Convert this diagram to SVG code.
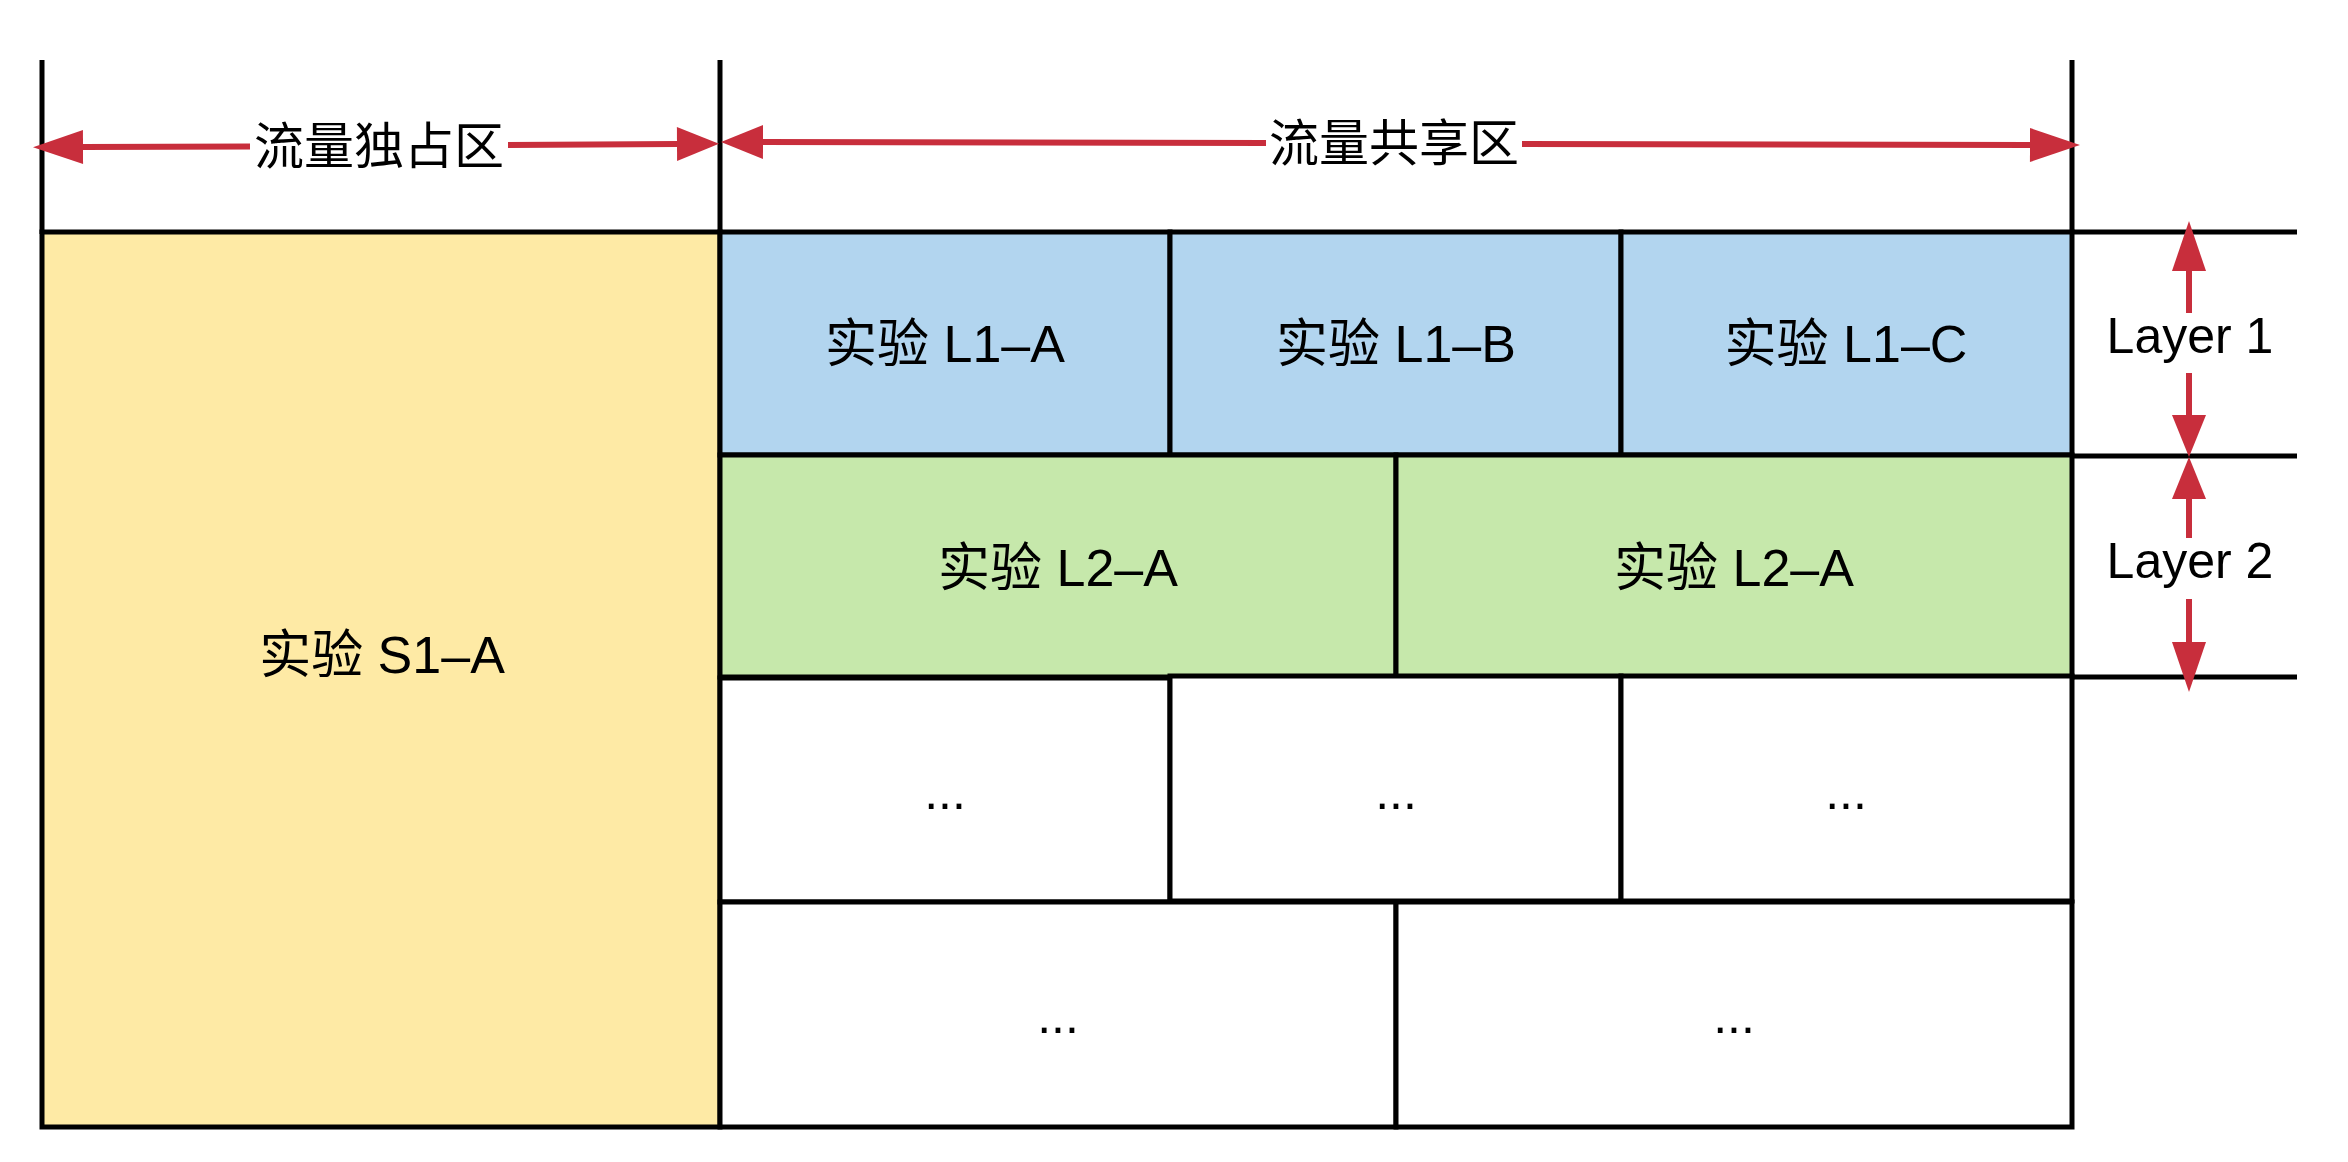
<svg xmlns="http://www.w3.org/2000/svg" width="2348" height="1162" viewBox="0 0 2348 1162">
  <style>
    .cell { stroke: #000000; stroke-width: 5; }
    .yellow { fill: #FEEAA5; }
    .blue { fill: #B2D5EF; }
    .green { fill: #C6E8AB; }
    .white { fill: #FFFFFF; }
    .edge { stroke: #000000; stroke-width: 5; fill: none; }
    .red { stroke: #C82E3C; stroke-width: 6; fill: none; }
    text { font-family: "Liberation Sans", "Noto Sans CJK SC", sans-serif; fill: #000000; text-anchor: middle; }
    .lbl { font-size: 52px; }
    .dots { font-size: 50px; }
    .head { font-size: 50px; }
  </style>
  <defs>
    <marker id="ah" markerUnits="userSpaceOnUse" markerWidth="50" markerHeight="34" refX="0" refY="17" orient="auto-start-reverse" overflow="visible">
      <path d="M0,0 L50,17 L0,34 Z" fill="#C82E3C"/>
    </marker>
    <marker id="ahs" markerUnits="userSpaceOnUse" markerWidth="42" markerHeight="34" refX="0" refY="17" orient="auto-start-reverse" overflow="visible">
      <path d="M0,0 L42,17 L0,34 Z" fill="#C82E3C"/>
    </marker>
  </defs>
  <rect x="0" y="0" width="2348" height="1162" fill="#FFFFFF"/>

  <g id="s1a">
    <rect class="cell yellow" x="42" y="232" width="678" height="895"/>
    <text class="lbl" x="382" y="673">实验 S1–A</text>
  </g>

  <g id="l1a">
    <rect class="cell blue" x="720" y="232" width="450" height="223"/>
    <text class="lbl" x="945" y="362">实验 L1–A</text>
  </g>
  <g id="l1b">
    <rect class="cell blue" x="1170" y="232" width="451" height="223"/>
    <text class="lbl" x="1396" y="362">实验 L1–B</text>
  </g>
  <g id="l1c">
    <rect class="cell blue" x="1621" y="232" width="451" height="223"/>
    <text class="lbl" x="1846" y="362">实验 L1–C</text>
  </g>

  <g id="l2a-1">
    <rect class="cell green" x="720" y="455" width="676" height="222"/>
    <text class="lbl" x="1058" y="586">实验 L2–A</text>
  </g>
  <g id="l2a-2">
    <rect class="cell green" x="1396" y="455" width="676" height="222"/>
    <text class="lbl" x="1734" y="586">实验 L2–A</text>
  </g>

  <g id="r3c1">
    <rect class="cell white" x="720" y="678" width="450" height="224"/>
    <text class="dots" x="945" y="809">...</text>
  </g>
  <g id="r3c2">
    <rect class="cell white" x="1170" y="676" width="451" height="225"/>
    <text class="dots" x="1396" y="809">...</text>
  </g>
  <g id="r3c3">
    <rect class="cell white" x="1621" y="676" width="451" height="225"/>
    <text class="dots" x="1846" y="809">...</text>
  </g>

  <g id="r4c1">
    <rect class="cell white" x="720" y="902" width="676" height="225"/>
    <text class="dots" x="1058" y="1033">...</text>
  </g>
  <g id="r4c2">
    <rect class="cell white" x="1396" y="902" width="676" height="225"/>
    <text class="dots" x="1734" y="1033">...</text>
  </g>

  <g id="guides">
    <line class="edge" x1="42" y1="60" x2="42" y2="234"/>
    <line class="edge" x1="720" y1="60" x2="720" y2="234"/>
    <line class="edge" x1="2072" y1="60" x2="2072" y2="234"/>
    <line class="edge" x1="2072" y1="232" x2="2297" y2="232"/>
    <line class="edge" x1="2072" y1="456" x2="2297" y2="456"/>
    <line class="edge" x1="2072" y1="677" x2="2297" y2="677"/>
  </g>

  <g id="connectors">
    <line class="red" x1="83" y1="147" x2="250" y2="146.5" marker-start="url(#ah)"/>
    <line class="red" x1="508" y1="145" x2="677" y2="144" marker-end="url(#ahs)"/>
    <line class="red" x1="763" y1="142" x2="1266" y2="143" marker-start="url(#ahs)"/>
    <line class="red" x1="1522" y1="144" x2="2030" y2="145" marker-end="url(#ah)"/>

    <line class="red" x1="2189" y1="271" x2="2189" y2="313" marker-start="url(#ah)"/>
    <line class="red" x1="2189" y1="373" x2="2189" y2="415" marker-end="url(#ahs)"/>
    <line class="red" x1="2189" y1="499" x2="2189" y2="538" marker-start="url(#ahs)"/>
    <line class="red" x1="2189" y1="599" x2="2189" y2="642" marker-end="url(#ah)"/>
  </g>

  <g id="labels">
    <text class="head" x="379" y="164">流量独占区</text>
    <text class="head" x="1394" y="161">流量共享区</text>
    <text class="head" x="2190" y="353">Layer 1</text>
    <text class="head" x="2190" y="578">Layer 2</text>
  </g>
</svg>
